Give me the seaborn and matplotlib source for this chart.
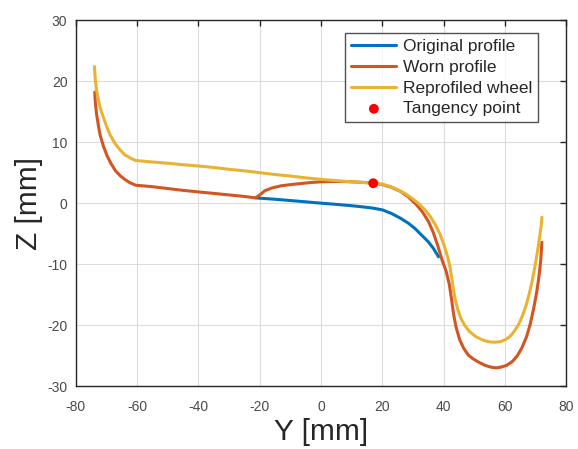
import pandas as pd
import matplotlib
matplotlib.use("Agg")
import matplotlib.pyplot as plt
import seaborn as sns

# original profile (only the part that differs from the worn one is visible)
orig_y = [-21.4, -15, -10, -5, 0, 5, 10, 14, 17, 20, 23, 26, 28.5, 30.5, 32.5, 34.9, 36.6, 38.3]
orig_z = [0.87, 0.64, 0.43, 0.22, 0.0, -0.2, -0.42, -0.63, -0.82, -1.1, -1.7, -2.5, -3.3, -4.1, -5.1, -6.3, -7.4, -8.8]

# worn profile
worn_y = [-73.8, -73.6, -73.2, -72.6, -72.0, -71.0, -69.8, -68.5, -67.0, -65.5, -64.0, -62.5, -60.5,
          -55, -50, -45, -40, -35, -30, -25, -21.4, -20.0, -18.3, -16, -13, -9.7, -6, -3, 0, 3, 7,
          10, 14, 17, 20, 23, 26, 28.5, 31, 33, 35, 36.5, 38, 39.5, 40.8, 41.8, 42.5, 43.2, 44.0,
          45.2, 46.5, 48, 49.5, 51.5, 53.5, 55.5, 57.0, 58.5, 60.5, 62.5, 64.0, 65.5, 67.0, 68.2,
          69.3, 70.3, 71.0, 71.6, 72.0]
worn_z = [18.2, 16.5, 14.6, 12.7, 11.1, 9.4, 7.8, 6.5, 5.3, 4.5, 3.9, 3.4, 2.95,
          2.7, 2.4, 2.1, 1.85, 1.6, 1.35, 1.1, 0.87, 1.35, 2.05, 2.5, 2.85, 3.06, 3.25, 3.4, 3.5, 3.55, 3.55,
          3.5, 3.4, 3.3, 3.05, 2.6, 1.9, 1.0, -0.2, -1.4, -3.0, -4.7, -6.9, -9.4, -11.2, -13.3, -15.6, -18.2, -20.3,
          -22.4, -23.8, -24.9, -25.5, -26.1, -26.6, -26.9, -27.0, -26.9, -26.6, -25.9, -25.0, -23.7, -21.9, -19.8,
          -17.3, -14.6, -12.2, -9.5, -6.4]

# reprofiled wheel
reprof_y = [-73.9, -73.6, -73.2, -72.6, -72.0, -71.0, -70.0, -68.8, -67.2, -65.5, -63.9, -62.0, -60.5,
            -55, -50, -45, -40, -35, -30, -25, -20, -15, -10, -5, 0, 5, 10, 14, 17, 20.2, 22.5,
            25, 27.3, 29.5, 31.5, 33.5, 35.5, 37.2, 38.8, 40.1, 41.2, 42.0, 42.6, 43.1, 43.7, 44.5,
            45.5, 46.8, 48.3, 50.5, 53, 55, 56.7, 58.5, 60, 61.5, 63, 64.5, 65.8, 67.0, 68.0, 68.9,
            69.8, 70.6, 71.3, 71.8, 72.0]
reprof_z = [22.4, 20.2, 18.5, 16.9, 15.6, 14.1, 12.7, 11.2, 9.8, 8.7, 7.9, 7.35, 7.0,
            6.75, 6.55, 6.3, 6.1, 5.85, 5.55, 5.3, 5.0, 4.7, 4.45, 4.15, 3.9, 3.7, 3.5, 3.38, 3.27, 3.1, 2.75,
            2.2, 1.6, 0.85, 0.05, -0.9, -2.1, -3.5, -5.1, -6.9, -8.7, -10.4, -12.2, -14.0, -15.7, -17.3,
            -18.8, -20.0, -21.0, -21.9, -22.5, -22.75, -22.8, -22.7, -22.4, -21.9, -21.0, -19.8, -18.3, -16.5, -14.6, -12.6,
            -10.2, -7.8, -5.4, -3.6, -2.3]

tangency_y = [17.0]
tangency_z = [3.27]

c_orig = "#0072BD"
c_worn = "#D35522"
c_reprof = "#E9B332"

sns.set_style("white")
plt.rcParams["font.family"] = ["Liberation Sans", "DejaVu Sans"]
plt.rcParams["axes.unicode_minus"] = False

fig = plt.figure(figsize=(5.78, 4.49), dpi=100)
ax = fig.add_axes([0.131, 0.140, 0.849, 0.815])

df_orig = pd.DataFrame({"Y": orig_y, "Z": orig_z})
df_worn = pd.DataFrame({"Y": worn_y, "Z": worn_z})
df_reprof = pd.DataFrame({"Y": reprof_y, "Z": reprof_z})
df_tan = pd.DataFrame({"Y": tangency_y, "Z": tangency_z})

sns.lineplot(data=df_orig, x="Y", y="Z", sort=False, estimator=None, color=c_orig,
             linewidth=2.2, label="Original profile", ax=ax)
sns.lineplot(data=df_worn, x="Y", y="Z", sort=False, estimator=None, color=c_worn,
             linewidth=2.2, label="Worn profile", ax=ax)
sns.lineplot(data=df_reprof, x="Y", y="Z", sort=False, estimator=None, color=c_reprof,
             linewidth=2.2, label="Reprofiled wheel", ax=ax)
sns.scatterplot(data=df_tan, x="Y", y="Z", color="#FF0000", s=50, edgecolor="none",
                label="Tangency point", ax=ax, zorder=5)

ax.set_xlim(-80, 80)
ax.set_ylim(-30, 30)
ax.set_xticks(range(-80, 81, 20))
ax.set_yticks(range(-30, 31, 10))
ax.grid(True, color="#dcdcdc", linewidth=0.8)
ax.set_axisbelow(True)
ax.tick_params(direction="in", length=4, width=1, top=True, right=True,
               labelsize=10, colors="#262626", labelcolor="#4a4a4a")
ax.tick_params(axis="x", pad=10)
ax.tick_params(axis="y", pad=6)
for s in ax.spines.values():
    s.set_color("#262626")
    s.set_linewidth(1.0)

ax.set_xlabel("Y [mm]", fontsize=21.5, color="#262626", labelpad=3)
ax.set_ylabel("Z [mm]", fontsize=21.5, color="#262626", labelpad=3)

leg = ax.legend(loc="upper right", bbox_to_anchor=(0.942, 0.965), borderaxespad=0,
                fontsize=12.5, frameon=True, fancybox=False, edgecolor="#262626",
                handlelength=2.6, handletextpad=0.35, labelspacing=0.32, borderpad=0.35)
leg.get_frame().set_linewidth(1.0)

fig.savefig("out.png", dpi=100)
